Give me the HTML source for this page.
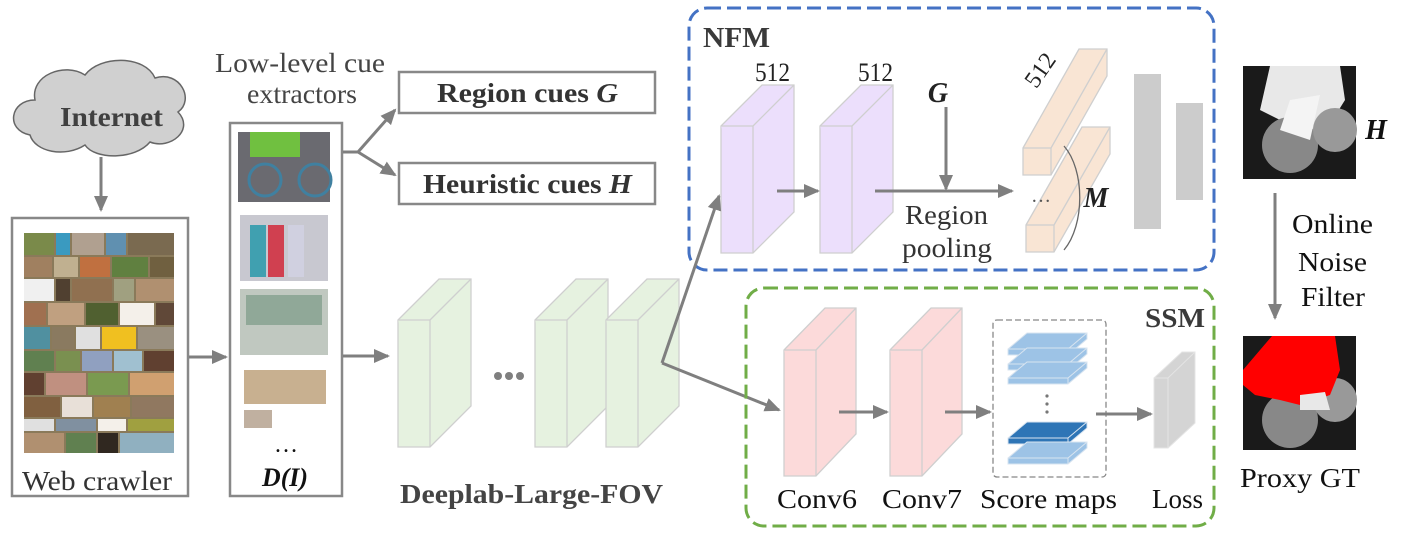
<!DOCTYPE html>
<html><head><meta charset="utf-8"><style>
body{margin:0;background:#fff}
svg{display:block;font-family:"Liberation Serif",serif}
</style></head><body>
<svg width="1401" height="537" viewBox="0 0 1401 537" xmlns="http://www.w3.org/2000/svg">
<defs>
<marker id="ab" markerWidth="16" markerHeight="16" refX="14" refY="8" orient="auto" markerUnits="userSpaceOnUse" viewBox="0 0 16 16">
<path d="M0,1 L16,8 L0,15 z" fill="#7f7f7f"/></marker>
</defs>

<!-- Cloud -->
<path d="M30,135 C5,130 10,100 35,100 C30,75 65,62 85,75 C100,55 145,55 155,78 C180,70 195,100 178,112 C195,130 170,150 150,142 C135,160 95,160 85,145 C65,158 35,152 30,135 z" fill="#d0d0d0" stroke="#666" stroke-width="1.5"/>
<text x="60" y="126" font-size="27" font-weight="bold" fill="#404040" textLength="103" lengthAdjust="spacingAndGlyphs">Internet</text>
<line x1="101" y1="157" x2="101" y2="210" stroke="#7f7f7f" stroke-width="3" marker-end="url(#ab)"/>

<!-- Web crawler -->
<rect x="12" y="218" width="176" height="278" fill="#fff" stroke="#888" stroke-width="2.5"/>
<g>
<rect x="24" y="233" width="150" height="220" fill="#8a7a5a"/>
<rect x="24" y="233" width="30" height="22" fill="#7a8a4a"/><rect x="56" y="233" width="14" height="22" fill="#3a9ac0"/><rect x="72" y="233" width="32" height="22" fill="#b0a090"/><rect x="106" y="233" width="20" height="22" fill="#6090b0"/><rect x="128" y="233" width="46" height="22" fill="#7a6a50"/>
<rect x="24" y="257" width="28" height="20" fill="#a08060"/><rect x="54" y="257" width="24" height="20" fill="#c0b090"/><rect x="80" y="257" width="30" height="20" fill="#c07040"/><rect x="112" y="257" width="36" height="20" fill="#608040"/><rect x="150" y="257" width="24" height="20" fill="#706040"/>
<rect x="24" y="279" width="30" height="22" fill="#f0f0f0"/><rect x="56" y="279" width="14" height="22" fill="#504030"/><rect x="72" y="279" width="40" height="22" fill="#907050"/><rect x="114" y="279" width="20" height="22" fill="#a0a080"/><rect x="136" y="279" width="38" height="22" fill="#b09070"/>
<rect x="24" y="303" width="22" height="22" fill="#a07050"/><rect x="48" y="303" width="36" height="22" fill="#c0a080"/><rect x="86" y="303" width="32" height="22" fill="#506030"/><rect x="120" y="303" width="34" height="22" fill="#f4f0ea"/><rect x="156" y="303" width="18" height="22" fill="#604838"/>
<rect x="24" y="327" width="26" height="22" fill="#5090a0"/><rect x="52" y="327" width="22" height="22" fill="#8a7a60"/><rect x="76" y="327" width="24" height="22" fill="#e0e0e0"/><rect x="102" y="327" width="34" height="22" fill="#f0c020"/><rect x="138" y="327" width="36" height="22" fill="#9a9080"/>
<rect x="24" y="351" width="30" height="20" fill="#608050"/><rect x="56" y="351" width="24" height="20" fill="#7a9050"/><rect x="82" y="351" width="30" height="20" fill="#90a0c0"/><rect x="114" y="351" width="28" height="20" fill="#a0c0d0"/><rect x="144" y="351" width="30" height="20" fill="#604030"/>
<rect x="24" y="373" width="20" height="22" fill="#604030"/><rect x="46" y="373" width="40" height="22" fill="#c09080"/><rect x="88" y="373" width="40" height="22" fill="#7a9a50"/><rect x="130" y="373" width="44" height="22" fill="#d0a070"/>
<rect x="24" y="397" width="36" height="20" fill="#806040"/><rect x="62" y="397" width="30" height="20" fill="#e8e0d8"/><rect x="94" y="397" width="36" height="20" fill="#a08050"/><rect x="132" y="397" width="42" height="20" fill="#907860"/>
<rect x="24" y="419" width="30" height="12" fill="#e0e0e0"/><rect x="56" y="419" width="40" height="12" fill="#8090a0"/><rect x="98" y="419" width="28" height="12" fill="#f4f0ea"/><rect x="128" y="419" width="46" height="12" fill="#a0a040"/>
<rect x="24" y="433" width="40" height="20" fill="#b09070"/><rect x="66" y="433" width="30" height="20" fill="#608050"/><rect x="98" y="433" width="20" height="20" fill="#302820"/><rect x="120" y="433" width="54" height="20" fill="#90b0c0"/>
</g>
<text x="22" y="490" font-size="27" fill="#333" textLength="150" lengthAdjust="spacingAndGlyphs">Web crawler</text>
<line x1="189" y1="357" x2="226" y2="357" stroke="#7f7f7f" stroke-width="3" marker-end="url(#ab)"/>

<!-- D(I) column -->
<rect x="230" y="123" width="112" height="373" fill="#fff" stroke="#888" stroke-width="2.5"/>
<rect x="238" y="132" width="92" height="70" fill="#6a6a70"/>
<rect x="250" y="132" width="50" height="25" fill="#70c040"/>
<circle cx="265" cy="180" r="16" fill="none" stroke="#4080a0" stroke-width="3"/><circle cx="315" cy="180" r="16" fill="none" stroke="#4080a0" stroke-width="3"/>
<rect x="240" y="215" width="88" height="66" fill="#c8c8d0"/>
<rect x="250" y="225" width="16" height="52" fill="#40a0b0"/><rect x="268" y="225" width="16" height="52" fill="#d04050"/><rect x="288" y="225" width="16" height="52" fill="#d0d0e0"/>
<rect x="240" y="289" width="88" height="66" fill="#c0c8c0"/>
<rect x="246" y="295" width="76" height="30" fill="#90a898"/>
<rect x="244" y="370" width="82" height="34" fill="#c8b090"/>
<rect x="244" y="410" width="28" height="18" fill="#c0b0a0"/>
<text x="286" y="452" font-size="24" text-anchor="middle" fill="#111">…</text>
<text x="262" y="486" font-size="26" font-weight="bold" font-style="italic" fill="#111" textLength="46" lengthAdjust="spacingAndGlyphs">D(I)</text>
<text x="215" y="72" font-size="27" fill="#444" textLength="170" lengthAdjust="spacingAndGlyphs">Low-level cue</text>
<text x="247" y="103" font-size="27" fill="#444" textLength="110" lengthAdjust="spacingAndGlyphs">extractors</text>

<!-- cue branches -->
<polyline points="343,152 358,152" fill="none" stroke="#7f7f7f" stroke-width="3"/>
<line x1="358" y1="152" x2="395" y2="110" stroke="#7f7f7f" stroke-width="3" marker-end="url(#ab)"/>
<line x1="358" y1="152" x2="395" y2="175" stroke="#7f7f7f" stroke-width="3" marker-end="url(#ab)"/>
<rect x="399" y="72" width="256" height="41" fill="#fff" stroke="#888" stroke-width="2.5"/>
<text x="437" y="102" font-size="27" font-weight="bold" fill="#333" textLength="181" lengthAdjust="spacingAndGlyphs">Region cues <tspan font-style="italic">G</tspan></text>
<rect x="399" y="163" width="256" height="41" fill="#fff" stroke="#888" stroke-width="2.5"/>
<text x="423" y="193" font-size="27" font-weight="bold" fill="#333" textLength="209" lengthAdjust="spacingAndGlyphs">Heuristic cues <tspan font-style="italic">H</tspan></text>
<line x1="343" y1="356" x2="388" y2="356" stroke="#7f7f7f" stroke-width="3" marker-end="url(#ab)"/>

<!-- Deeplab green blocks -->
<g fill="#e6f2e0" stroke="#cfcfcf" stroke-width="1.3">
<path d="M398,320 L439,279 L471,279 L471,406 L430,447 L398,447 z"/><path d="M430,320 L471,279 M398,320 L430,320 L430,447"/>
<path d="M535,320 L576,279 L608,279 L608,406 L567,447 L535,447 z"/><path d="M567,320 L608,279 M535,320 L567,320 L567,447"/>
<path d="M606,320 L647,279 L679,279 L679,406 L638,447 L606,447 z"/><path d="M638,320 L679,279 M606,320 L638,320 L638,447"/>
</g>
<circle cx="498" cy="376" r="4" fill="#7f7f7f"/><circle cx="509" cy="376" r="4" fill="#7f7f7f"/><circle cx="520" cy="376" r="4" fill="#7f7f7f"/>
<text x="400" y="503" font-size="27" font-weight="bold" fill="#444" textLength="263" lengthAdjust="spacingAndGlyphs">Deeplab-Large-FOV</text>

<!-- NFM -->
<rect x="689" y="8" width="525" height="262" rx="18" fill="none" stroke="#4472c4" stroke-width="3" stroke-dasharray="14,6"/>
<text x="703" y="47" font-size="28" font-weight="bold" fill="#3a3a3a" textLength="67" lengthAdjust="spacingAndGlyphs">NFM</text>
<g fill="#ecdffc" stroke="#cfcfcf" stroke-width="1.3">
<path d="M721,126 L762,85 L794,85 L794,212 L753,253 L721,253 z"/><path d="M753,126 L794,85 M721,126 L753,126 L753,253"/>
<path d="M820,126 L861,85 L893,85 L893,212 L852,253 L820,253 z"/><path d="M852,126 L893,85 M820,126 L852,126 L852,253"/>
</g>
<text x="755" y="81" font-size="26" fill="#222" textLength="35" lengthAdjust="spacingAndGlyphs">512</text>
<text x="858" y="81" font-size="26" fill="#222" textLength="35" lengthAdjust="spacingAndGlyphs">512</text>
<line x1="777" y1="191" x2="818" y2="191" stroke="#7f7f7f" stroke-width="3" marker-end="url(#ab)"/>
<line x1="875" y1="191" x2="1012" y2="191" stroke="#7f7f7f" stroke-width="3" marker-end="url(#ab)"/>
<line x1="946" y1="107" x2="946" y2="189" stroke="#7f7f7f" stroke-width="3" marker-end="url(#ab)"/>
<text x="938" y="102" font-size="28" font-weight="bold" font-style="italic" fill="#222" text-anchor="middle">G</text>
<text x="905" y="224" font-size="27" fill="#333" textLength="83" lengthAdjust="spacingAndGlyphs">Region</text>
<text x="902" y="257" font-size="27" fill="#333" textLength="90" lengthAdjust="spacingAndGlyphs">pooling</text>
<g fill="#f9e5d4" stroke="#cfcfcf" stroke-width="1.3">
<path d="M1023,148 L1079,49 L1107,49 L1107,76 L1051,175 L1023,175 z"/><path d="M1023,148 L1051,148 L1051,175 M1051,148 L1107,49"/>
<path d="M1026,225 L1082,127 L1110,127 L1110,154 L1054,252 L1026,252 z"/><path d="M1026,225 L1054,225 L1054,252 M1054,225 L1110,127"/>
</g>
<text x="1041" y="202" font-size="20" fill="#555" text-anchor="middle">…</text>
<text x="1040" y="78" font-size="24" fill="#222" text-anchor="middle" transform="rotate(-55 1040 70)">512</text>
<path d="M1064,146 C1085,170 1085,225 1064,250" fill="none" stroke="#666" stroke-width="1.3"/>
<text x="1096" y="207" font-size="28" font-weight="bold" font-style="italic" fill="#222" text-anchor="middle">M</text>
<rect x="1134" y="74" width="27" height="155" fill="#cccccc"/>
<rect x="1176" y="103" width="27" height="97" fill="#cccccc"/>

<!-- connectors from deeplab -->
<line x1="662" y1="363" x2="719" y2="196" stroke="#7f7f7f" stroke-width="3" marker-end="url(#ab)"/>
<line x1="662" y1="363" x2="779" y2="410" stroke="#7f7f7f" stroke-width="3" marker-end="url(#ab)"/>

<!-- SSM -->
<rect x="746" y="288" width="468" height="238" rx="18" fill="none" stroke="#70ad47" stroke-width="3" stroke-dasharray="14,6"/>
<text x="1145" y="327" font-size="27" font-weight="bold" fill="#3a3a3a" textLength="60" lengthAdjust="spacingAndGlyphs">SSM</text>
<g fill="#fcdada" stroke="#cfcfcf" stroke-width="1.3">
<path d="M784,350 L825,308 L856,308 L856,434 L816,476 L784,476 z"/><path d="M816,350 L856,308 M784,350 L816,350 L816,476"/>
<path d="M890,350 L931,308 L962,308 L962,434 L922,476 L890,476 z"/><path d="M922,350 L962,308 M890,350 L922,350 L922,476"/>
</g>
<line x1="839" y1="412" x2="887" y2="412" stroke="#7f7f7f" stroke-width="3" marker-end="url(#ab)"/>
<line x1="945" y1="412" x2="990" y2="412" stroke="#7f7f7f" stroke-width="3" marker-end="url(#ab)"/>
<rect x="993" y="320" width="113" height="157" rx="4" fill="none" stroke="#888" stroke-width="1.3" stroke-dasharray="6,3"/>
<g stroke="#d8e4f0" stroke-width="1">
<path d="M1008,349 L1027,333 L1087,333 L1087,339 L1068,355 L1008,355 z" fill="#9dc3e6"/><path d="M1008,349 L1068,349 L1087,333 M1068,349 L1068,355" fill="none"/>
<path d="M1008,364 L1027,348 L1087,348 L1087,354 L1068,370 L1008,370 z" fill="#9dc3e6"/><path d="M1008,364 L1068,364 L1087,348 M1068,364 L1068,370" fill="none"/>
<path d="M1008,378 L1027,362 L1087,362 L1087,368 L1068,384 L1008,384 z" fill="#9dc3e6"/><path d="M1008,378 L1068,378 L1087,362 M1068,378 L1068,384" fill="none"/>
<path d="M1008,438 L1027,422 L1087,422 L1087,428 L1068,444 L1008,444 z" fill="#2e75b6"/><path d="M1008,438 L1068,438 L1087,422 M1068,438 L1068,444" fill="none"/>
<path d="M1008,458 L1027,442 L1087,442 L1087,448 L1068,464 L1008,464 z" fill="#9dc3e6"/><path d="M1008,458 L1068,458 L1087,442 M1068,458 L1068,464" fill="none"/>
</g>
<circle cx="1047" cy="396" r="1.6" fill="#777"/><circle cx="1047" cy="404" r="1.6" fill="#777"/><circle cx="1047" cy="412" r="1.6" fill="#777"/>
<line x1="1096" y1="414" x2="1151" y2="414" stroke="#7f7f7f" stroke-width="3" marker-end="url(#ab)"/>
<g fill="#d4d4d4" stroke="#e4e4e4" stroke-width="1">
<path d="M1154,378 L1182,352 L1195,352 L1195,423 L1168,448 L1154,448 z"/><path d="M1154,378 L1168,378 L1168,448 M1168,378 L1195,352" fill="none"/>
</g>
<g font-size="27" fill="#111">
<text x="777" y="508" textLength="80" lengthAdjust="spacingAndGlyphs">Conv6</text>
<text x="882" y="508" textLength="80" lengthAdjust="spacingAndGlyphs">Conv7</text>
<text x="980" y="508" textLength="137" lengthAdjust="spacingAndGlyphs">Score maps</text>
<text x="1152" y="508" textLength="51" lengthAdjust="spacingAndGlyphs">Loss</text>
</g>

<!-- right column -->
<rect x="1243" y="66" width="113" height="113" fill="#1a1a1a"/>
<path d="M1270,66 L1340,66 L1345,100 L1320,140 L1300,145 L1280,120 L1260,110 z" fill="#e8e8e8"/>
<circle cx="1290" cy="145" r="28" fill="#888"/><circle cx="1335" cy="130" r="22" fill="#999"/>
<path d="M1290,100 L1320,95 L1310,140 L1280,130 z" fill="#f4f4f4"/>
<text x="1376" y="139" font-size="28" font-weight="bold" font-style="italic" fill="#111" text-anchor="middle">H</text>
<line x1="1275" y1="193" x2="1275" y2="318" stroke="#7f7f7f" stroke-width="3" marker-end="url(#ab)"/>
<g font-size="27" fill="#111">
<text x="1292" y="233" textLength="81" lengthAdjust="spacingAndGlyphs">Online</text>
<text x="1298" y="271" textLength="69" lengthAdjust="spacingAndGlyphs">Noise</text>
<text x="1301" y="306" textLength="64" lengthAdjust="spacingAndGlyphs">Filter</text>
<text x="1240" y="487" textLength="120" lengthAdjust="spacingAndGlyphs">Proxy GT</text>
</g>
<rect x="1243" y="336" width="113" height="114" fill="#1a1a1a"/>
<circle cx="1290" cy="420" r="28" fill="#888"/><circle cx="1335" cy="400" r="22" fill="#999"/>
<path d="M1272,336 L1335,336 L1340,370 L1330,395 L1300,405 L1280,400 L1255,395 L1243,385 L1243,370 z" fill="#ff0000"/>
<path d="M1300,395 L1325,392 L1330,410 L1300,410 z" fill="#e8e8e8"/>
</svg>
</body></html>
